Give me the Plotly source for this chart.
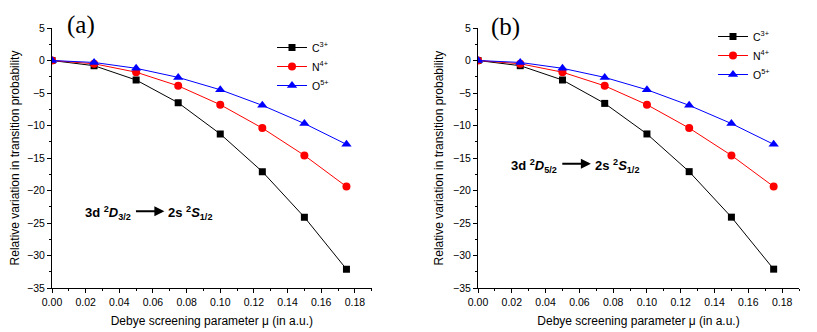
import plotly.graph_objects as go

# Debye screening parameter (a.u.)
mu = [0.0, 0.025, 0.05, 0.075, 0.10, 0.125, 0.15, 0.175]

# (a) 3d 2D3/2 -> 2s 2S1/2
c3_a = [0.0, -0.8, -3.0, -6.5, -11.3, -17.1, -24.1, -32.1]
n4_a = [0.0, -0.5, -1.8, -3.9, -6.8, -10.4, -14.6, -19.4]
o5_a = [0.0, -0.3, -1.2, -2.6, -4.5, -6.9, -9.7, -12.9]

# (b) 3d 2D5/2 -> 2s 2S1/2
c3_b = [0.0, -0.8, -3.0, -6.6, -11.3, -17.1, -24.1, -32.1]
n4_b = [0.0, -0.5, -1.8, -3.9, -6.8, -10.4, -14.6, -19.4]
o5_b = [0.0, -0.3, -1.2, -2.6, -4.5, -6.9, -9.7, -12.9]

ion_names = ["C<sup>3+</sup>", "N<sup>4+</sup>", "O<sup>5+</sup>"]
x_ticks = [0.0, 0.02, 0.04, 0.06, 0.08, 0.10, 0.12, 0.14, 0.16, 0.18]
y_ticks = [5, 0, -5, -10, -15, -20, -25, -30, -35]

styles = [
    dict(color="#000000", symbol="square", size=7),
    dict(color="#ff0000", symbol="circle", size=8),
    dict(color="#0000ff", symbol="triangle-up", size=9),
]

# the page body has an 8px margin, so the figure is shrunk and positions shifted
OFF = 8
W, H = 817 - OFF, 332 - OFF


def px(x):
    return (x - OFF) / W


def py(y):
    return 1 - (y - OFF) / H


fig = go.Figure()

panels = [
    ("x", "y", "legend", [c3_a, n4_a, o5_a]),
    ("x2", "y2", "legend2", [c3_b, n4_b, o5_b]),
]
for xa, ya, leg, series in panels:
    for name, vals, st in zip(ion_names, series, styles):
        fig.add_trace(go.Scatter(
            x=mu, y=vals, name=name, mode="lines+markers",
            xaxis=xa, yaxis=ya, legend=leg,
            line=dict(color=st["color"], width=1),
            marker=dict(color=st["color"], symbol=st["symbol"], size=st["size"]),
        ))

font = dict(family="Liberation Sans, Arial, sans-serif", size=12, color="#000")
tickfont = dict(family="Liberation Sans, Arial, sans-serif", size=10.5, color="#000")
legfont = dict(family="Liberation Sans, Arial, sans-serif", size=10.5, color="#000")

xcommon = dict(
    range=[0, 0.19], tickvals=x_ticks, ticktext=[f"{v:.2f}" for v in x_ticks],
    ticks="outside", ticklen=4, tickwidth=1, tickcolor="#000",
    minor=dict(dtick=0.01, ticks="outside", ticklen=2, tickcolor="#000"),
    showline=True, linecolor="#000", linewidth=1, showgrid=False, zeroline=False,
    tickfont=tickfont, automargin=False,
    title=dict(text="Debye screening parameter μ (in a.u.)", font=font, standoff=10),
)
ycommon = dict(
    range=[-35, 5], tickvals=y_ticks,
    ticks="outside", ticklen=4, tickwidth=1, tickcolor="#000",
    minor=dict(dtick=2.5, ticks="outside", ticklen=2, tickcolor="#000"),
    showline=True, linecolor="#000", linewidth=1, showgrid=False, zeroline=False,
    tickfont=tickfont, automargin=False,
    title=dict(text="Relative variation in transition probability", font=font, standoff=6),
)

legcommon = dict(
    font=legfont, bgcolor="rgba(0,0,0,0)", itemwidth=30, tracegroupgap=0,
    xanchor="left", yanchor="top", itemclick=False,
)

fig.update_layout(
    width=W, height=H,
    margin=dict(l=0, r=0, t=0, b=0, autoexpand=False),
    plot_bgcolor="white", paper_bgcolor="white",
    showlegend=True,
    xaxis=dict(domain=[px(52), px(371.7)], anchor="y", **xcommon),
    yaxis=dict(domain=[py(288), py(28)], anchor="x", **ycommon),
    xaxis2=dict(domain=[px(478), px(799)], anchor="y2", **xcommon),
    yaxis2=dict(domain=[py(288), py(28)], anchor="x2", **ycommon),
    legend=dict(x=px(272), y=py(33), **legcommon),
    legend2=dict(x=px(713), y=py(22), **legcommon),
)

serif = dict(family="Liberation Serif, Times New Roman, serif", size=25, color="#000")
bold = dict(family="Liberation Sans, Arial, sans-serif", size=13, color="#000")

# panel letters in paper coordinates (they sit above the axis range)
fig.add_annotation(x=px(65), y=py(25), xref="paper", yref="paper", text="(a)",
                   showarrow=False, font=serif, xanchor="left", yanchor="middle")
fig.add_annotation(x=px(489), y=py(27), xref="paper", yref="paper", text="(b)",
                   showarrow=False, font=serif, xanchor="left", yanchor="middle")

for xa, ya, jval, ty in [("x", "y", "3/2", -23.5), ("x2", "y2", "5/2", -16.2)]:
    fig.add_annotation(x=0.0185, y=ty, xref=xa, yref=ya,
                       text=f"<b>3d <sup>2</sup><i>D</i><sub>{jval}</sub></b>",
                       showarrow=False, font=bold, xanchor="left", yanchor="middle")
    fig.add_annotation(x=0.0668, y=ty + 0.3, ax=0.049, ay=ty + 0.3, xref=xa, yref=ya,
                       axref=xa, ayref=ya, text="", showarrow=True, arrowhead=2,
                       arrowsize=1, arrowwidth=2, arrowcolor="#000")
    fig.add_annotation(x=0.068, y=ty, xref=xa, yref=ya,
                       text="<b>2s <sup>2</sup><i>S</i><sub>1/2</sub></b>",
                       showarrow=False, font=bold, xanchor="left", yanchor="middle")

fig.write_html("out.html")
